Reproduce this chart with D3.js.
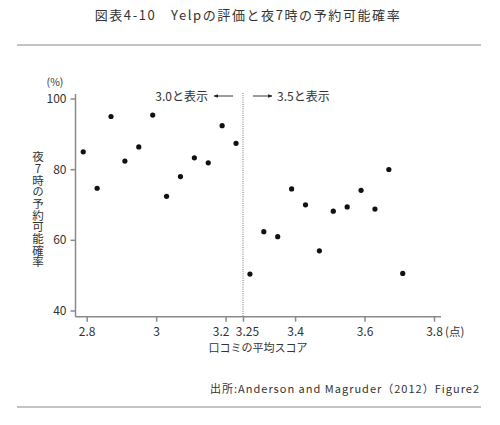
<!DOCTYPE html>
<html><head><meta charset="utf-8">
<script src="https://cdn.jsdelivr.net/npm/d3@7"></script>
<style>
body{margin:0;background:#fff;}
text{font-family:"Noto Sans CJK JP","Noto Sans",sans-serif;}
</style></head>
<body><svg id="c" width="500" height="425"></svg>
<script>
const title = "図表4-10　Yelpの評価と夜7時の予約可能確率";
const source = "出所:Anderson and Magruder（2012）Figure2";
const xTicks = [2.8, 3.0, 3.2, 3.25, 3.4, 3.6, 3.8];
const xTickLabels = ["2.8", "3", "3.2", "3.25", "3.4", "3.6", "3.8"];
const yTicks = [40, 60, 80, 100];
const leftX = [2.79, 2.83, 2.87, 2.91, 2.95, 2.99, 3.03, 3.07, 3.11, 3.15, 3.19, 3.23];
const leftY = [84.9, 74.6, 94.9, 82.3, 86.3, 95.3, 72.3, 77.9, 83.2, 81.8, 92.3, 87.3];
const rightX = [3.27, 3.31, 3.35, 3.39, 3.43, 3.47, 3.51, 3.55, 3.59, 3.63, 3.67, 3.71];
const rightY = [50.3, 62.3, 60.9, 74.4, 69.9, 56.9, 68.1, 69.3, 74.0, 68.7, 79.9, 50.5];
const cutoff = 3.25;

const svg = d3.select("#c");
const x = d3.scaleLinear().domain([2.8, 3.8]).range([86.7, 434]);
const y = d3.scaleLinear().domain([40, 100]).range([310.5, 98.5]);
const axisColor = "#8a8a8a", textColor = "#333";

// title
svg.append("text").attr("x", 248).attr("y", 20).attr("text-anchor", "middle")
  .attr("font-size", 13).attr("letter-spacing", 1.6).attr("fill", textColor).text(title);
svg.append("line").attr("x1", 17).attr("x2", 481).attr("y1", 45).attr("y2", 45)
  .attr("stroke", "#888").attr("stroke-width", 1);

// axes
const xAxis = d3.axisBottom(x).tickValues(xTicks).tickFormat((d, i) => xTickLabels[i]).tickSize(5).tickSizeOuter(0);
const gx = svg.append("g").attr("transform", "translate(0,316.7)").call(xAxis);
gx.select(".domain").attr("d", "M75.5,0H441");
const yAxis = d3.axisLeft(y).tickValues(yTicks).tickSize(5).tickSizeOuter(0);
const gy = svg.append("g").attr("transform", "translate(75.5,0)").call(yAxis);
gy.select(".domain").attr("d", "M0,94V316.7");
[gx, gy].forEach(g => {
  g.selectAll("path,line").attr("stroke", axisColor).attr("stroke-width", 1.5);
  g.selectAll("text").attr("fill", textColor).attr("font-size", 12)
    .attr("font-family", '"Noto Sans","Noto Sans CJK JP",sans-serif');
});
gx.selectAll("text").attr("dy", "0.95em")
  .attr("dx", d => d === 3.2 ? -5 : d === 3.25 ? 4 : 0);
gy.selectAll("text").attr("dx", "-1px");

svg.append("text").attr("x", 445).attr("y", 336).attr("font-size", 11.5).attr("fill", textColor).text("(点)");
svg.append("text").attr("x", 55).attr("y", 86).attr("text-anchor", "middle").attr("font-size", 10.5).attr("fill", textColor).text("(%)");

// axis titles
svg.append("text").attr("x", 258).attr("y", 352).attr("text-anchor", "middle")
  .attr("font-size", 11).attr("fill", textColor).text("口コミの平均スコア");
svg.append("text").attr("x", 38).attr("y", 151)
  .attr("font-size", 11.5).attr("fill", textColor)
  .style("writing-mode", "vertical-rl").style("text-orientation", "upright")
  .attr("letter-spacing", 0.2)
  .text("夜7時の予約可能確率");

// cutoff line
svg.append("line").attr("x1", x(cutoff)).attr("x2", x(cutoff)).attr("y1", 93).attr("y2", 316)
  .attr("stroke", "#777").attr("stroke-width", 1).attr("stroke-dasharray", "1,1.2");

// annotations
const defs = svg.append("defs");
defs.append("marker").attr("id", "ah").attr("viewBox", "0 0 10 10").attr("refX", 9).attr("refY", 5)
  .attr("markerWidth", 5).attr("markerHeight", 5).attr("orient", "auto-start-reverse")
  .append("path").attr("d", "M0,1L10,5L0,9z").attr("fill", "#222");
svg.append("line").attr("x1", 233).attr("x2", 214).attr("y1", 96).attr("y2", 96)
  .attr("stroke", "#222").attr("stroke-width", 0.9).attr("marker-end", "url(#ah)");
svg.append("line").attr("x1", 253).attr("x2", 272).attr("y1", 96).attr("y2", 96)
  .attr("stroke", "#222").attr("stroke-width", 0.9).attr("marker-end", "url(#ah)");
svg.append("text").attr("x", 208).attr("y", 100.5).attr("text-anchor", "end")
  .attr("font-size", 12).attr("fill", textColor).text("3.0と表示");
svg.append("text").attr("x", 277).attr("y", 100.5)
  .attr("font-size", 12).attr("fill", textColor).text("3.5と表示");

// points
const pts = leftX.map((v, i) => [v, leftY[i]]).concat(rightX.map((v, i) => [v, rightY[i]]));
svg.append("g").selectAll("circle").data(pts).join("circle")
  .attr("cx", d => x(d[0])).attr("cy", d => y(d[1])).attr("r", 2.6).attr("fill", "#111");

// source
svg.append("text").attr("x", 480).attr("y", 393).attr("text-anchor", "end")
  .attr("font-size", 11).attr("letter-spacing", 1.0).attr("fill", textColor).text(source);
svg.append("line").attr("x1", 17).attr("x2", 481).attr("y1", 407).attr("y2", 407)
  .attr("stroke", "#888").attr("stroke-width", 1);
</script></body></html>
